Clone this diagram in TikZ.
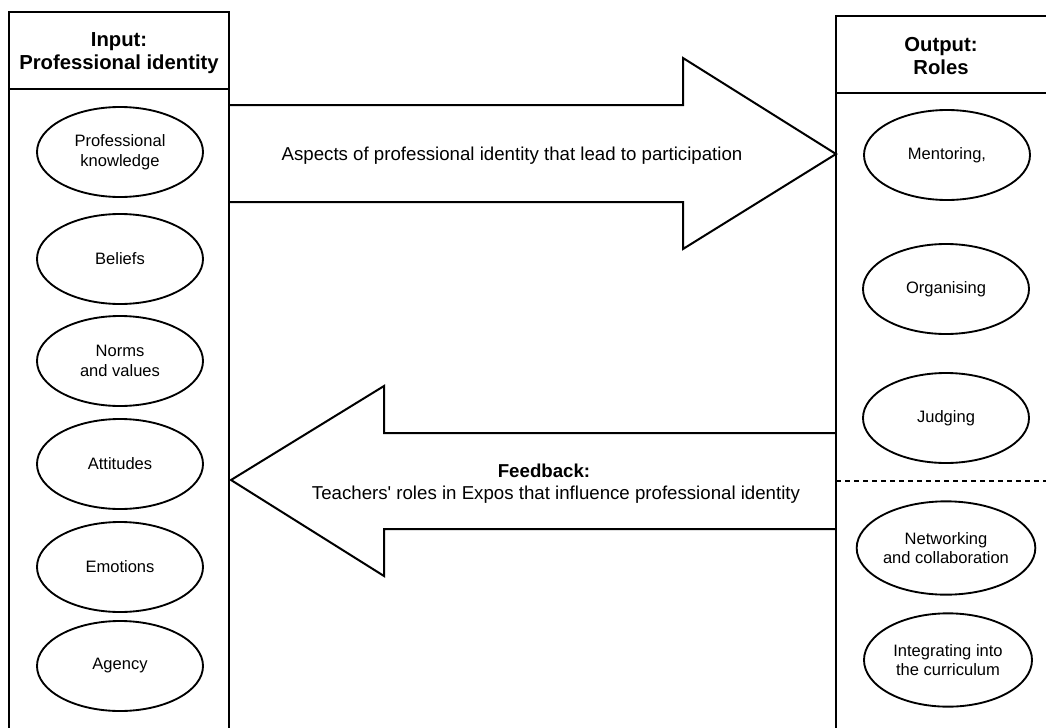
\documentclass[tikz,border=0pt]{standalone}
\usepackage{fontspec}
\setmainfont{Liberation Sans}
\usetikzlibrary{shapes.geometric}
\begin{document}
\begin{tikzpicture}[x=0.75pt,y=-0.75pt,
  frame/.style={line width=1.5pt, line join=miter},
  band/.style={line width=1.5pt, line join=miter},
  item/.style={draw, line width=1.4pt, ellipse, inner sep=0pt,
    minimum width=124.5pt, minimum height=67.5pt, align=center,
    font=\fontsize{12.4}{14.6}\selectfont},
  head/.style={align=center, font=\fontsize{15.2}{17.5}\selectfont\bfseries},
  bandtext/.style={align=center, font=\fontsize{14}{18}\selectfont}]
\useasboundingbox (0,0) rectangle (1046,728);
\clip (0,0) rectangle (1046,728);

% Input column
\draw[frame] (9,740) -- (9,12) -- (229,12) -- (229,740);
\draw[frame] (9,89) -- (229,89);
\node[head] (inhead) at (119,53) {Input:\\Professional identity};

\node[item] (know)   at (120,152) {Professional\\knowledge};
\node[item] (belief) at (120,259) {Beliefs};
\node[item] (norms)  at (120,361) {Norms\\and values};
\node[item] (att)    at (120,464) {Attitudes};
\node[item] (emo)    at (120,567) {Emotions};
\node[item] (agency) at (120,666) {Agency};

% Output column
\draw[frame] (1060,16) -- (836,16) -- (836,740);
\draw[frame] (836,93) -- (1060,93);
\node[head] (outhead) at (941,56) {Output:\\Roles};
\draw[line width=1.2pt, dash pattern=on 3.75pt off 3pt] (836,481) -- (1046,481);

\node[item] (mentor) at (947,155) {Mentoring,};
\node[item] (organ)  at (946,289) {Organising};
\node[item] (judge)  at (946,418) {Judging};
\node[item, minimum width=134pt, minimum height=70pt] (network) at (946,548) {Networking\\and collaboration};
\node[item, minimum width=126pt, minimum height=70pt] (integr) at (948,660) {Integrating into\\the curriculum};

% Forward band: input to output
\coordinate (fa1) at (229,105);
\coordinate (fa7) at (229,202);
\draw[band] (fa1) -- (683,105) -- (683,58) -- (836,154) -- (683,249) -- (683,202) -- (fa7);
\node[bandtext] (fwdlabel) at (512,156) {Aspects of professional identity that lead to participation};

% Feedback band: output to input
\coordinate (fb1) at (836,433);
\coordinate (fb7) at (836,529);
\draw[band] (fb1) -- (384,433) -- (384,386) -- (231,480) -- (384,576) -- (384,529) -- (fb7);
\node[bandtext, font=\fontsize{14}{18}\selectfont\bfseries] (fbtitle) at (544,471) {Feedback:};
\node[bandtext] (fbtext) at (556,495) {Teachers\textquotesingle\ roles in Expos that influence professional identity};
\end{tikzpicture}
\end{document}
